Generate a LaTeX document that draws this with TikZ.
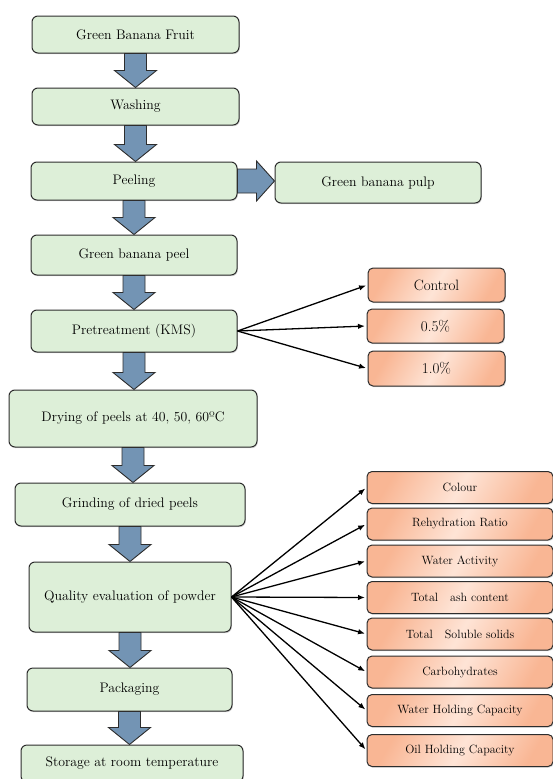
\documentclass[tikz,border=0pt]{standalone}
\usepackage{tikz}
\usetikzlibrary{arrows.meta, calc, shadows}
\definecolor{boxgreen}{RGB}{221,239,216}
\definecolor{flowblue}{RGB}{115,148,180}
\definecolor{peachdark}{RGB}{249,182,148}
\definecolor{peachlight}{RGB}{254,228,214}
\definecolor{edgegray}{RGB}{45,45,45}

% vertical block arrow from one box down to the next
\newcommand{\downflow}[2]{%
  \draw[blockarrow] let \p1=(#1.south), \p2=(#2.north) in
    (\x1-11pt,\y1) -- (\x1-11pt,\y2+17pt) -- (\x1-21pt,\y2+17pt) -- (\x1,\y2)
    -- (\x1+21pt,\y2+17pt) -- (\x1+11pt,\y2+17pt) -- (\x1+11pt,\y1) -- cycle;}

\begin{document}
\begin{tikzpicture}[
          x=1pt, y=-1pt,
          stepbox/.style={draw=edgegray, fill=boxgreen, line width=1pt, rounded corners=6pt, align=center, inner sep=2pt,
            font=\fontsize{13.8}{16}\selectfont, drop shadow={shadow xshift=0.8pt, shadow yshift=-1.2pt, opacity=0.3}},
          dosebox/.style={draw=edgegray, line width=1pt, rounded corners=5pt, align=center, inner sep=2pt,
            left color=peachdark, right color=peachdark, middle color=peachlight, shading angle=60,
            minimum width=137, minimum height=34, font=\fontsize{15}{17}\selectfont,
            drop shadow={shadow xshift=0.8pt, shadow yshift=-1.2pt, opacity=0.3}},
          testbox/.style={dosebox, minimum width=186, minimum height=32, font=\fontsize{12}{14}\selectfont},
          blockarrow/.style={draw=edgegray, fill=flowblue, line width=0.9pt, line join=miter},
          fanarrow/.style={-{Latex[length=7pt, width=5.5pt]}, line width=1.3pt, black, shorten >=1.5pt}
        ]
          \useasboundingbox (0,0) rectangle (553,779);

          % Main process line
          \node[stepbox, minimum width=207, minimum height=37] (fruit) at (135.5, 34.5) {Green Banana Fruit};
          \node[stepbox, minimum width=207, minimum height=37] (wash) at (135.5, 106.5) {Washing};
          \node[stepbox, minimum width=206, minimum height=38] (peel) at (134, 181) {Peeling};
          \node[stepbox, minimum width=206, minimum height=40] (gpeel) at (134, 255) {Green banana peel};
          \node[stepbox, minimum width=206, minimum height=42] (pretreat) at (134, 331) {Pretreatment (KMS)};
          \node[stepbox, minimum width=248, minimum height=57] (dry) at (133, 418.5) {Drying of peels at 40, 50, 60ºC};
          \node[stepbox, minimum width=230, minimum height=43] (grind) at (130, 504.5) {Grinding of dried peels};
          \node[stepbox, minimum width=202, minimum height=70] (quality) at (130, 597) {Quality evaluation of powder};
          \node[stepbox, minimum width=205, minimum height=43] (pack) at (129.5, 689.5) {Packaging};
          \node[stepbox, minimum width=222, minimum height=37] (store) at (132, 763.5) {Storage at room temperature};

          % Side product
          \node[stepbox, minimum width=206, minimum height=41] (pulp) at (378, 182.5) {Green banana pulp};

          % KMS levels
          \node[dosebox] (ctrl) at (436.5, 285) {Control};
          \node[dosebox] (kms05) at (435.5, 326) {0.5\%};
          \node[dosebox, minimum height=35] (kms10) at (436.5, 368.5) {1.0\%};

          % Quality parameters
          \foreach \name/\txt/\yy in {colour/Colour/487.5, rehyd/Rehydration Ratio/524,
              wact/Water Activity/561, ash/Total\hspace{1em}ash content/597.5,
              tss/Total\hspace{1em}Soluble solids/634, carb/Carbohydrates/672,
              whc/Water Holding Capacity/710.5, ohc/Oil Holding Capacity/750.5}
            \node[testbox] (\name) at (460, \yy) {\txt};

          % Block arrows
          \downflow{fruit}{wash}
          \downflow{wash}{peel}
          \downflow{peel}{gpeel}
          \downflow{gpeel}{pretreat}
          \downflow{pretreat}{dry}
          \downflow{dry}{grind}
          \downflow{grind}{quality}
          \downflow{quality}{pack}
          \downflow{pack}{store}
          \draw[blockarrow] let \p1=(peel.east), \p2=(pulp.west) in
            (\x1,\y1+12pt) -- (\x2-18pt,\y1+12pt) -- (\x2-18pt,\y1+20pt) -- (\x2,\y1)
            -- (\x2-18pt,\y1-20pt) -- (\x2-18pt,\y1-12pt) -- (\x1,\y1-12pt) -- cycle;

          % Connections
          \foreach \dose in {ctrl, kms05, kms10}
            \draw[fanarrow] (pretreat.east) -- (\dose.west);
          \foreach \test in {colour, rehyd, wact, ash, tss, carb, whc, ohc}
            \draw[fanarrow] (quality.east) -- (\test.west);
        \end{tikzpicture}
\end{document}
